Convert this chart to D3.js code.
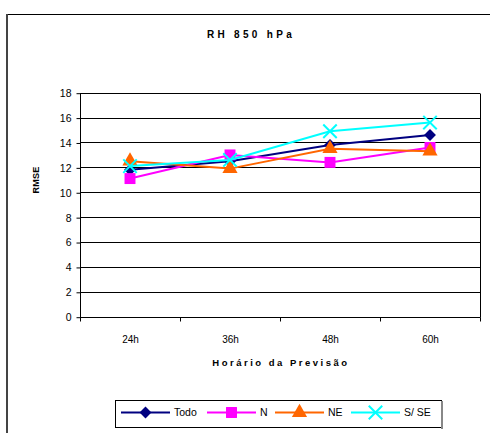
<!DOCTYPE html>
<html><head><meta charset="utf-8">
<script src="https://cdn.jsdelivr.net/npm/d3@7"></script>
<style>body{margin:0;background:#fff}svg{display:block}text{font-family:"Liberation Sans",Arial,sans-serif}</style>
</head><body>
<svg id="c" width="490" height="433"></svg>
<script>
const categories = ["24h","36h","48h","60h"];
const todo = [11.8, 12.5, 13.8, 14.6];
const north = [11.1, 13.0, 12.4, 13.6];
const northeast = [12.5, 11.9, 13.5, 13.3];
const southSE = [12.1, 12.6, 14.9, 15.6];
const yTicks = [0,2,4,6,8,10,12,14,16,18];
const seriesNames = ["Todo","N","NE","S/ SE"];
const seriesColors = ["#000080","#FF00FF","#FF6600","#00FFFF"];
const seriesSymbols = ["diamond","square","triangle","x"];
const FONT = "'Liberation Sans', Arial, sans-serif";

const svg = d3.select("#c");
svg.append("line").attr("x1",6).attr("x2",490).attr("y1",14.5).attr("y2",14.5).attr("stroke","#000");
svg.append("line").attr("x1",7).attr("x2",7).attr("y1",14).attr("y2",433).attr("stroke","#444").attr("stroke-width",2);

const L=80, R=480, T=92.7, B=316.7;
const x = d3.scaleBand().domain(categories).range([L,R]);
const y = d3.scaleLinear().domain([0,18]).range([B,T]);

const g = svg.append("g");
g.selectAll(".grid").data(yTicks).join("line")
  .attr("x1",L).attr("x2",R)
  .attr("y1",d=>Math.round(y(d))+0.5).attr("y2",d=>Math.round(y(d))+0.5)
  .attr("stroke","#000").attr("stroke-width",1);
g.append("line").attr("x1",R+0.5).attr("x2",R+0.5).attr("y1",Math.round(T)+0.5).attr("y2",Math.round(B)+0.5).attr("stroke","#000");

const yAx = svg.append("g").attr("transform",`translate(${L+0.5},0.5)`)
  .call(d3.axisLeft(y).tickValues(yTicks).tickSize(4).tickPadding(5).tickFormat(d3.format("d")));
yAx.attr("font-family",FONT);
yAx.selectAll("text").attr("font-size",10.5).attr("fill","#000").style("font-family",FONT);
yAx.selectAll("line,path").attr("stroke","#000");
yAx.select("path").attr("d",`M0,${Math.round(T)}V${Math.round(B)}`);

const xAx = svg.append("g").attr("transform",`translate(0.5,${Math.round(B)+0.5})`);
xAx.append("line").attr("x1",L).attr("x2",R).attr("stroke","#000");
const bounds = categories.map(c=>x(c)).concat([R]);
xAx.selectAll(".tk").data(bounds).join("line")
  .attr("x1",d=>Math.round(d)).attr("x2",d=>Math.round(d)).attr("y1",0).attr("y2",4).attr("stroke","#000");
xAx.selectAll(".lb").data(categories).join("text")
  .attr("x",d=>x(d)+x.bandwidth()/2).attr("y",25).attr("text-anchor","middle")
  .attr("font-size",10).attr("fill","#000").style("font-family",FONT).text(d=>d);

svg.append("text").attr("x",251).attr("y",38).attr("text-anchor","middle").style("font-family",FONT)
  .attr("font-size",10).attr("font-weight","bold").attr("letter-spacing","3.3px").text("RH 850 hPa");
svg.append("text").attr("x",281).attr("y",366).attr("text-anchor","middle").style("font-family",FONT)
  .attr("font-size",9.5).attr("font-weight","bold").attr("letter-spacing","2.5px").text("Horário da Previsão");
svg.append("text").attr("transform","translate(39,180) rotate(-90)").attr("text-anchor","middle").style("font-family",FONT)
  .attr("font-size",9).attr("font-weight","bold").attr("letter-spacing","0.3px").text("RMSE");

const seriesData = [todo, north, northeast, southSE];
function sym(name){
  if(name==="diamond") return d3.symbol().type(d3.symbolDiamond2).size(90)();
  if(name==="square") return d3.symbol().type(d3.symbolSquare).size(120)();
  if(name==="triangle") return d3.symbol().type(d3.symbolTriangle).size(100)();
  return d3.symbol().type(d3.symbolTimes).size(120)();
}
function drawMarker(sel, type, color){
  if(type==="x"){
    sel.append("path").attr("d",sym(type)).attr("fill","none").attr("stroke",color).attr("stroke-width",2);
  } else {
    sel.append("path").attr("d",sym(type)).attr("fill",color);
  }
}
const cx = c=>x(c)+x.bandwidth()/2;
const line = d3.line().x((d,i)=>cx(categories[i])).y(d=>y(d));
seriesData.forEach((vals,si)=>{
  svg.append("path").datum(vals).attr("d",line).attr("fill","none")
    .attr("stroke",seriesColors[si]).attr("stroke-width",2);
  vals.forEach((v,i)=>{
    const m = svg.append("g").attr("transform",`translate(${cx(categories[i])},${y(v)})`);
    drawMarker(m, seriesSymbols[si], seriesColors[si]);
  });
});

const lg = svg.append("g");
lg.append("rect").attr("x",115.5).attr("y",400.5).attr("width",326).attr("height",27).attr("fill","#fff").attr("stroke","#000");
lg.append("line").attr("x1",442).attr("x2",442).attr("y1",401).attr("y2",429).attr("stroke","#888").attr("stroke-width",2);
const lx = [121, 207, 275, 351];
seriesNames.forEach((n,i)=>{
  const ly = 412.5;
  lg.append("line").attr("x1",lx[i]).attr("x2",lx[i]+49).attr("y1",ly).attr("y2",ly)
    .attr("stroke",seriesColors[i]).attr("stroke-width",2);
  const m = lg.append("g").attr("transform",`translate(${lx[i]+24.5},${ly})`);
  drawMarker(m, seriesSymbols[i], seriesColors[i]);
  lg.append("text").attr("x",lx[i]+53).attr("y",ly+3.5).attr("font-size",10.5).attr("fill","#000").style("font-family",FONT).text(n);
});
</script>
</body></html>
